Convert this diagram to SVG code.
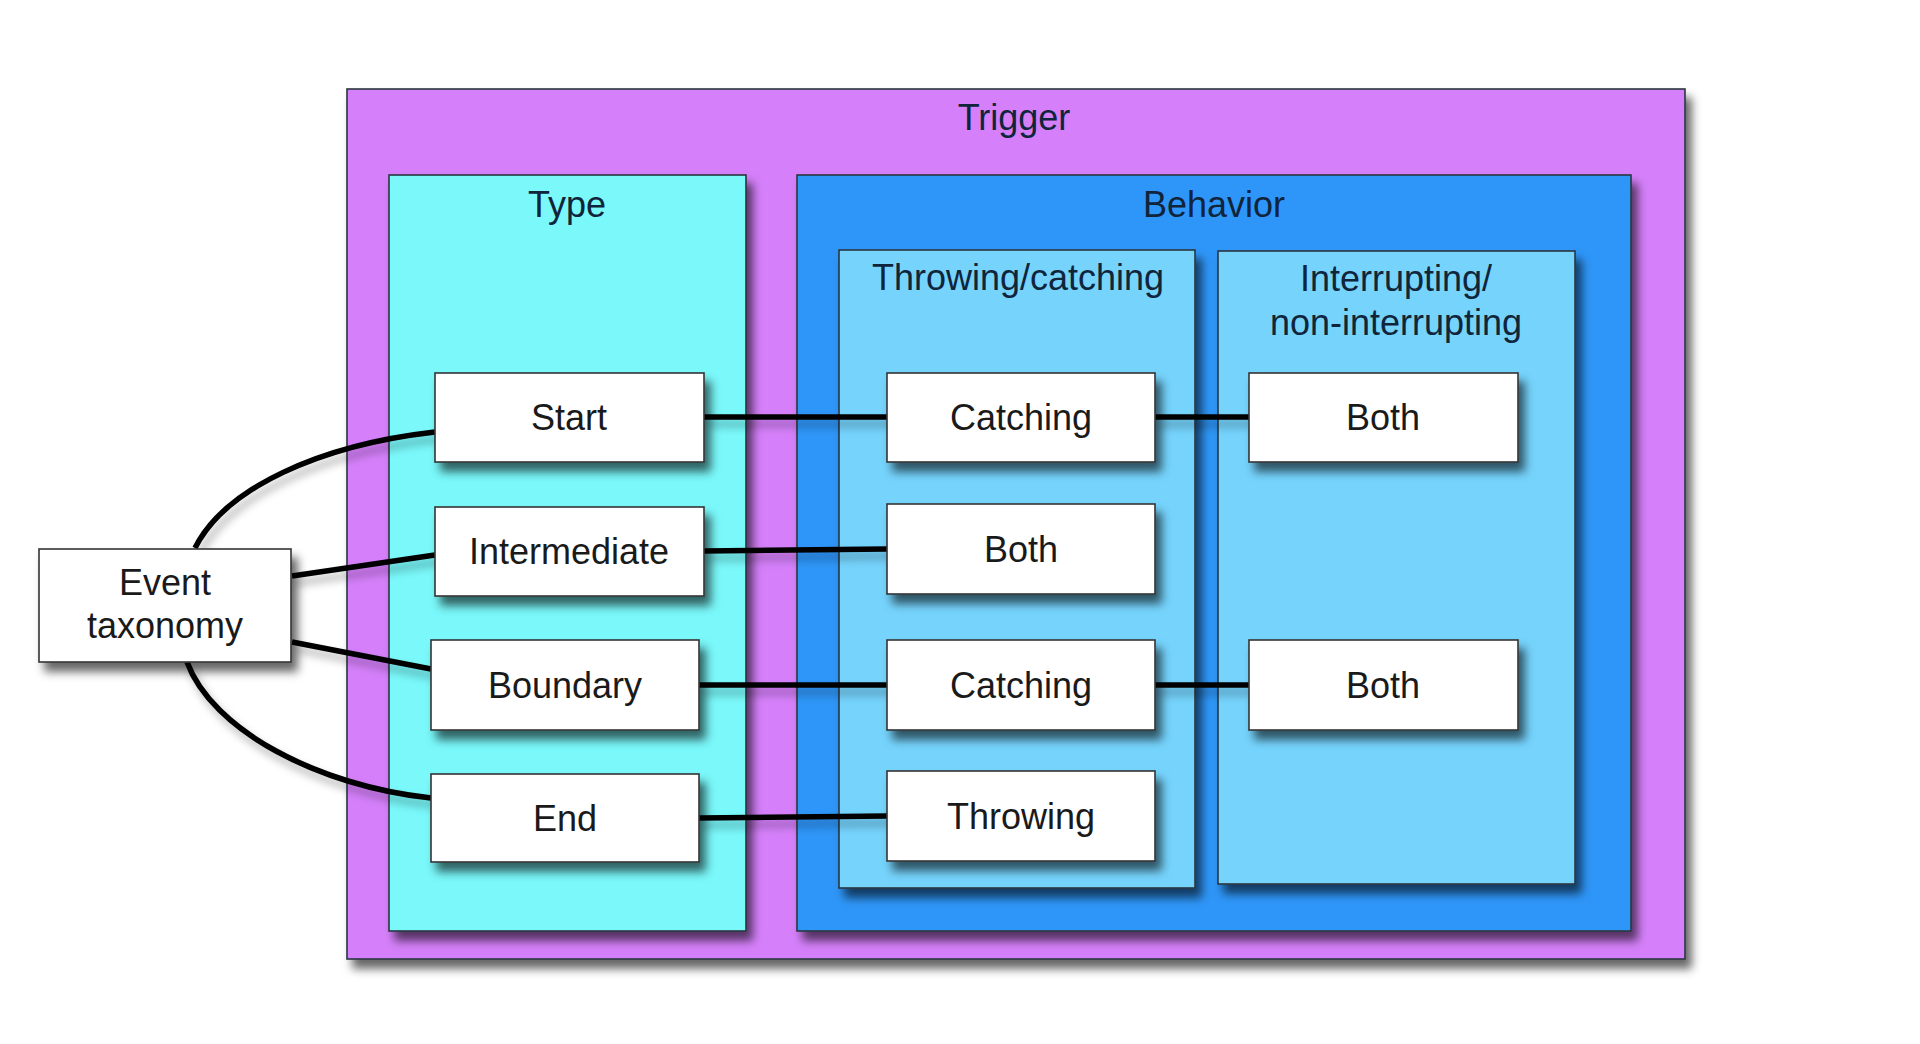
<svg xmlns="http://www.w3.org/2000/svg" width="1920" height="1044" viewBox="0 0 1920 1044">
<defs>
<filter id="sh" x="-10%" y="-10%" width="130%" height="140%">
<feDropShadow dx="6" dy="9" stdDeviation="5" flood-color="#000" flood-opacity="0.6"/>
</filter>
<filter id="lsh" x="-10%" y="-20%" width="130%" height="160%">
<feDropShadow dx="4" dy="7" stdDeviation="4" flood-color="#000" flood-opacity="0.3"/>
</filter>
</defs>
<style>
.box{stroke:#2a3540;stroke-width:1.6}
.node{fill:#ffffff;stroke:#333;stroke-width:1.6}
text{font-family:"Liberation Sans",Arial,Helvetica,sans-serif;font-size:36px;fill:#1a1a1a;text-anchor:middle}
.title{fill:#10243a}
.con{fill:none;stroke:#000;stroke-width:5.5}
</style>
<rect width="1920" height="1044" fill="#ffffff"/>

<g id="trigger">
<rect class="box" x="347" y="89" width="1338" height="870" fill="#D580FA" filter="url(#sh)"/>
<text class="title" x="1014" y="130">Trigger</text>
</g>
<g id="type">
<rect class="box" x="389" y="175" width="357" height="756" fill="#7AF8FA" filter="url(#sh)"/>
<text class="title" x="567" y="217">Type</text>
</g>
<g id="behavior">
<rect class="box" x="797" y="175" width="834" height="756" fill="#2E96F8" filter="url(#sh)"/>
<text class="title" x="1214" y="217">Behavior</text>
</g>
<g id="throwing-catching">
<rect class="box" x="839" y="250" width="356" height="638" fill="#74D3FC" filter="url(#sh)"/>
<text class="title" x="1018" y="290">Throwing/catching</text>
</g>
<g id="interrupting">
<rect class="box" x="1218" y="251" width="357" height="633" fill="#74D3FC" filter="url(#sh)"/>
<text class="title" x="1396" y="291">Interrupting/</text>
<text class="title" x="1396" y="335">non-interrupting</text>
</g>

<g id="connectors" filter="url(#lsh)">
<path class="con" d="M195,548 C225,488 320,445 435,432"/>
<path class="con" d="M292,576 L435,555"/>
<path class="con" d="M292,642 L431,669"/>
<path class="con" d="M187,662 C212,730 318,786 431,798"/>
<path class="con" d="M704,417 L887,417"/>
<path class="con" d="M1155,417 L1249,417"/>
<path class="con" d="M704,551 L887,549"/>
<path class="con" d="M699,685 L887,685"/>
<path class="con" d="M1155,685 L1249,685"/>
<path class="con" d="M699,818 L887,816"/>
</g>

<g id="event-taxonomy">
<rect class="node" x="39" y="549" width="252" height="113" filter="url(#sh)"/>
<text x="165" y="595">Event</text>
<text x="165" y="638">taxonomy</text>
</g>
<g id="start">
<rect class="node" x="435" y="373" width="269" height="89" filter="url(#sh)"/>
<text x="569" y="430">Start</text>
</g>
<g id="intermediate">
<rect class="node" x="435" y="507" width="269" height="89" filter="url(#sh)"/>
<text x="569" y="564">Intermediate</text>
</g>
<g id="boundary">
<rect class="node" x="431" y="640" width="268" height="90" filter="url(#sh)"/>
<text x="565" y="698">Boundary</text>
</g>
<g id="end">
<rect class="node" x="431" y="774" width="268" height="88" filter="url(#sh)"/>
<text x="565" y="831">End</text>
</g>
<g id="catching-1">
<rect class="node" x="887" y="373" width="268" height="89" filter="url(#sh)"/>
<text x="1021" y="430">Catching</text>
</g>
<g id="both-mid">
<rect class="node" x="887" y="504" width="268" height="90" filter="url(#sh)"/>
<text x="1021" y="562">Both</text>
</g>
<g id="catching-2">
<rect class="node" x="887" y="640" width="268" height="90" filter="url(#sh)"/>
<text x="1021" y="698">Catching</text>
</g>
<g id="throwing">
<rect class="node" x="887" y="771" width="268" height="90" filter="url(#sh)"/>
<text x="1021" y="829">Throwing</text>
</g>
<g id="both-1">
<rect class="node" x="1249" y="373" width="269" height="89" filter="url(#sh)"/>
<text x="1383" y="430">Both</text>
</g>
<g id="both-2">
<rect class="node" x="1249" y="640" width="269" height="90" filter="url(#sh)"/>
<text x="1383" y="698">Both</text>
</g>
</svg>
